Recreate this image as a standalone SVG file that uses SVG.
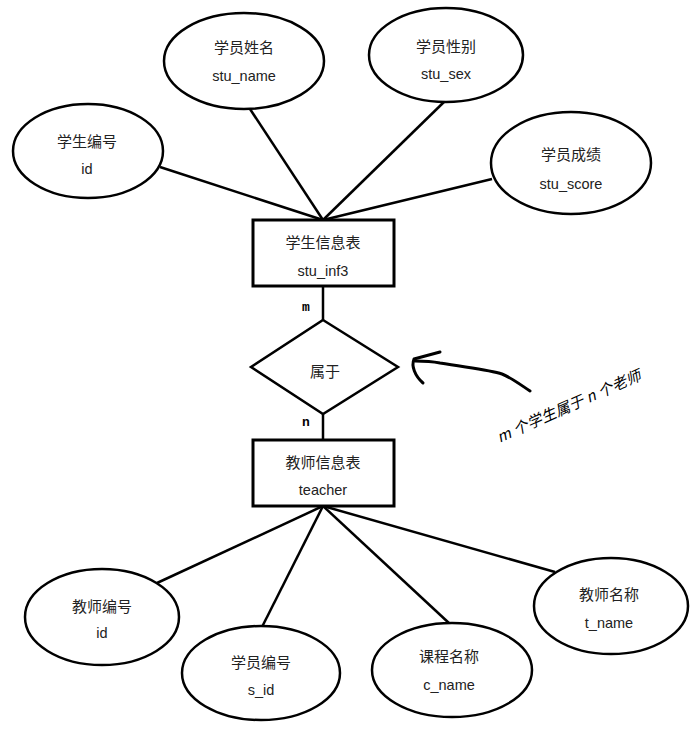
<svg xmlns="http://www.w3.org/2000/svg" width="697" height="731" viewBox="0 0 697 731">
<style>
.bg{fill:#ffffff}
.attr{fill:#ffffff;stroke:#000;stroke-width:2.5}
.ent{fill:#ffffff;stroke:#000;stroke-width:3}
.rel{fill:#ffffff;stroke:#000;stroke-width:2.5}
.conn line{stroke:#000;stroke-width:2.5}
.cn{font-family:"Noto Sans CJK SC","Noto Sans",sans-serif;font-size:15px;fill:#222;text-anchor:middle}
.en{font-family:"Liberation Sans",Arial,sans-serif;font-size:14.5px;fill:#222;text-anchor:middle}
.card{font-family:"Liberation Mono","DejaVu Sans Mono",monospace;font-size:13px;font-weight:bold;fill:#000;text-anchor:middle}
.note{font-family:"Noto Sans CJK SC",sans-serif;font-size:15px;font-style:italic;fill:#000;text-anchor:middle}
</style>
<rect class="bg" x="0" y="0" width="697" height="731"/>
<g id="connectors" class="conn">
<line x1="323" y1="220" x2="160" y2="167"/>
<line x1="323" y1="220" x2="250" y2="109"/>
<line x1="323" y1="220" x2="445" y2="101"/>
<line x1="323" y1="220" x2="492" y2="179"/>
<line x1="323" y1="286" x2="323" y2="320"/>
<line x1="323" y1="414" x2="323" y2="440"/>
<line x1="323" y1="506" x2="157" y2="583"/>
<line x1="323" y1="506" x2="262" y2="627"/>
<line x1="323" y1="506" x2="450" y2="624"/>
<line x1="323" y1="506" x2="555" y2="572"/>
</g>
<g id="attr-stu-id">
<ellipse class="attr" cx="88" cy="151" rx="75" ry="47"/>
<text class="cn" x="87" y="147">学生编号</text>
<text class="en" x="87" y="174">id</text>
</g>
<g id="attr-stu-name">
<ellipse class="attr" cx="244" cy="61" rx="80" ry="48"/>
<text class="cn" x="244" y="53">学员姓名</text>
<text class="en" x="244" y="81">stu_name</text>
</g>
<g id="attr-stu-sex">
<ellipse class="attr" cx="446" cy="55" rx="77" ry="47"/>
<text class="cn" x="446" y="52">学员性别</text>
<text class="en" x="446" y="79">stu_sex</text>
</g>
<g id="attr-stu-score">
<ellipse class="attr" cx="571" cy="163" rx="80" ry="51"/>
<text class="cn" x="571" y="160">学员成绩</text>
<text class="en" x="571" y="189">stu_score</text>
</g>
<g id="entity-student">
<rect class="ent" x="253" y="220" width="141" height="66"/>
<text class="cn" x="323" y="248">学生信息表</text>
<text class="en" x="323" y="276">stu_inf3</text>
</g>
<g id="relation-belongs">
<polygon class="rel" points="323,320 398,367 323,414 251,367"/>
<text class="cn" x="325" y="377">属于</text>
</g>
<text class="card" x="306" y="311">m</text>
<text class="card" x="306" y="426">n</text>
<g id="entity-teacher">
<rect class="ent" x="253" y="440" width="141" height="66"/>
<text class="cn" x="323" y="468">教师信息表</text>
<text class="en" x="323" y="495">teacher</text>
</g>
<g id="attr-t-id">
<ellipse class="attr" cx="102" cy="617" rx="77" ry="48"/>
<text class="cn" x="102" y="612">教师编号</text>
<text class="en" x="102" y="638">id</text>
</g>
<g id="attr-s-id">
<ellipse class="attr" cx="261" cy="673" rx="79" ry="47"/>
<text class="cn" x="261" y="668">学员编号</text>
<text class="en" x="261" y="695">s_id</text>
</g>
<g id="attr-c-name">
<ellipse class="attr" cx="452" cy="670" rx="80" ry="47"/>
<text class="cn" x="449" y="662">课程名称</text>
<text class="en" x="449" y="690">c_name</text>
</g>
<g id="attr-t-name">
<ellipse class="attr" cx="611" cy="606" rx="77" ry="48"/>
<text class="cn" x="609" y="600">教师名称</text>
<text class="en" x="609" y="628">t_name</text>
</g>
<g id="annotation">
<path d="M530,391 C518,383 510,377 502,374 C490,370 470,368 440,363 C430,361 420,361 415,361" fill="none" stroke="#000" stroke-width="3" stroke-linecap="round"/>
<path d="M440,352 L414,359 C411,366 415,376 423,383" fill="none" stroke="#000" stroke-width="3" stroke-linecap="round" stroke-linejoin="round"/>
<text class="note" transform="translate(571,411) rotate(-24)" textLength="156" lengthAdjust="spacing">m 个学生属于 n 个老师</text>
</g>
</svg>
